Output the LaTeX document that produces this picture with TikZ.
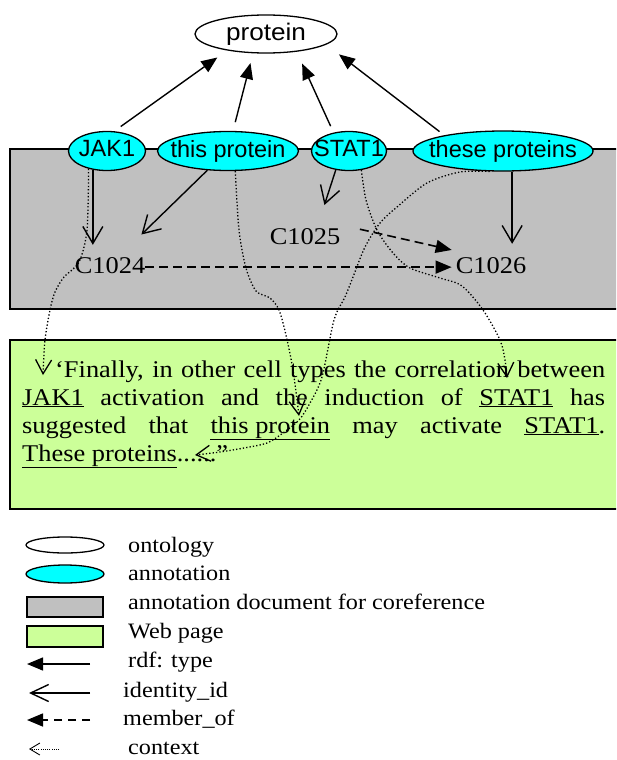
\documentclass[tikz,border=0pt]{standalone}
\usepackage{fontspec}
\setmainfont{Liberation Serif}[FakeStretch=1.1]
\newfontfamily\labelfont{Liberation Sans}
\newfontfamily\widelabelfont{Liberation Sans}[FakeStretch=1.09]
\usetikzlibrary{arrows.meta,shapes.geometric,calc}
\definecolor{annocyan}{HTML}{00FFFF}
\definecolor{docgray}{HTML}{C0C0C0}
\definecolor{pagegreen}{HTML}{CCFF99}
\newcommand{\ellab}[1]{\makebox[0pt]{\vphantom{Jp}#1}}

\begin{document}
\begin{tikzpicture}[x=1pt,y=-1pt,
    onto/.style={ellipse,draw,line width=1.3pt,fill=white,inner sep=0pt},
    anno/.style={ellipse,draw,line width=1.3pt,fill=annocyan,inner sep=0pt,
        font=\labelfont\fontsize{23.5}{28}\selectfont},
    concept/.style={inner sep=0pt,font=\fontsize{24}{28}\selectfont},
    pageline/.style={anchor=base west,inner sep=0pt,font=\fontsize{24}{28}\selectfont},
    rdftype/.style={-{Triangle[length=16pt,width=13pt]},line width=1.4pt},
    identity/.style={-{Straight Barb[length=17pt,width=20pt]},line width=1.4pt},
    memberof/.style={-{Triangle[length=16pt,width=13pt]},line width=1.6pt,
        dash pattern=on 9pt off 5pt},
    context/.style={-{Straight Barb[length=14pt,width=16pt,line width=1.3pt]},line width=1.3pt,
        dash pattern=on 1.3pt off 2.1pt},
    legend/.style={anchor=base west,inner sep=0pt,font=\fontsize{22}{26}\selectfont}]
    \useasboundingbox (0,0) rectangle (616,760);
    \clip (0,0) rectangle (616,760);

    % annotation document and web page
    \draw[fill=docgray,line width=1.6pt] (10,149) rectangle (630,309);
    \draw[fill=pagegreen,line width=1.8pt] (10,340) rectangle (630,509);

    % ontology and annotations
    \node[onto,minimum width=142pt,minimum height=38pt,
        font=\widelabelfont\fontsize{24}{28}\selectfont] (protein) at (266,34) {\ellab{protein}};
    \node[anno,minimum width=77pt,minimum height=39pt] (jak) at (107,151) {\ellab{JAK1}};
    \node[anno,minimum width=141pt,minimum height=39pt] (tp) at (228,151) {\ellab{this protein}};
    \node[anno,minimum width=75pt,minimum height=39pt] (stat) at (349,151) {\ellab{STAT1}};
    \node[anno,minimum width=180pt,minimum height=40pt] (these) at (503,151) {\ellab{these proteins}};

    % coreference instances
    \node[concept,anchor=base] (c1024) at (110,273) {C1024};
    \node[concept,anchor=base] (c1025) at (305,244) {C1025};
    \node[concept,anchor=base] (c1026) at (491,273) {C1026};

    % web page text
    \node[pageline] (page-1) at (55,377)
        {\makebox[550pt][s]{‘Finally, in other cell types the correlation between}};
    \node[pageline] (page-2) at (22,405)
        {\makebox[583pt][s]{\underline{JAK1} activation and the induction of \underline{STAT1} has}};
    \node[pageline] (page-3) at (22,433)
        {\makebox[583pt][s]{suggested that \underline{this protein} may activate \underline{STAT1}.}};
    \node[pageline] (page-4) at (22,461) {\underline{These proteins}......”};
    \coordinate (ctx-jak) at (43,375);
    \coordinate (ctx-tp) at (299,416);
    \coordinate (ctx-stat) at (507,378);
    \coordinate (ctx-these) at (195,455);

    % rdf: type
    \draw[rdftype,shorten <=8pt,shorten >=12pt] (jak.70) -- (protein.203);
    \draw[rdftype,shorten <=9pt,shorten >=10pt] (tp.76) -- (protein.236);
    \draw[rdftype,shorten <=7pt,shorten >=13pt] (stat.130) -- (protein.330);
    \draw[rdftype,shorten <=6pt,shorten >=16pt] (these.165) -- (protein.350);

    % identity_id
    \draw[identity,shorten >=12pt] (jak.233) -- (jak.233 |- c1024.north);
    \draw[identity,shorten >=32pt] (tp.223) -- (c1024);
    \draw[identity,shorten >=24pt] (stat.235) -- ($(c1025.north)+(12,0)$);
    \draw[identity,shorten >=13pt] (these.294) -- (these.294 |- c1026.north);

    % member_of
    \draw[memberof,shorten >=4pt] ([yshift=-2pt]c1024.east) -- ([yshift=-2pt]c1026.west);
    \draw[memberof,shorten <=20pt,shorten >=4pt] ([yshift=3pt]c1025.north east) -- ([yshift=6pt]c1026.north west);

    % context
    \draw[context] plot[smooth,tension=0.5] coordinates {(jak.224) (87,230) (79,262)
        (64,277) (55,292) (50,310) (45,340) (ctx-jak)};
    \draw[context] plot[smooth,tension=0.5] coordinates {(tp.290) (239,230) (246,268)
        (256,291) (270,298) (279,310) (286,335) (293,370) (ctx-tp)};
    \draw[context] plot[smooth,tension=0.5] coordinates {(stat.303) (366,200) (377,230)
        (393,253) (410,268) (440,278) (462,286) (483,310) (500,340) (505,360) (ctx-stat)};
    \draw[context] plot[smooth,tension=0.5] coordinates {(these.237) (460,172) (427,183)
        (397,207) (380,223) (365,247) (353,277) (345,297) (334,320) (322,377) (310,403)
        (299,420) (283,433) (267,443) (244,448) (220,452) (ctx-these)};

    % legend
    \node[onto,minimum width=78pt,minimum height=16pt] (lg-onto) at (65,545) {};
    \node[anno,minimum width=78pt,minimum height=18pt] (lg-anno) at (65,574) {};
    \draw[fill=docgray,line width=1.5pt] (27,597) rectangle (103,617);
    \draw[fill=pagegreen,line width=1.5pt] (27,626) rectangle (103,647);
    \coordinate (lg-rdf-a) at (90,664);
    \coordinate (lg-rdf-b) at (27,664);
    \coordinate (lg-id-a) at (90,693);
    \coordinate (lg-id-b) at (29,693);
    \coordinate (lg-mem-a) at (90,720);
    \coordinate (lg-mem-b) at (27,720);
    \coordinate (lg-ctx-a) at (59,749);
    \coordinate (lg-ctx-b) at (29,749);
    \draw[rdftype] (lg-rdf-a) -- (lg-rdf-b);
    \draw[identity,-{Straight Barb[length=18pt,width=17pt]}] (lg-id-a) -- (lg-id-b);
    \draw[memberof,dash pattern=on 8pt off 6pt] (lg-mem-a) -- (lg-mem-b);
    \draw[context,line width=0.8pt,dash pattern=on 0.8pt off 1.4pt,
        -{Straight Barb[length=10pt,width=12pt,line width=0.9pt]}] (lg-ctx-a) -- (lg-ctx-b);
    \node[legend] (lt-onto) at (128,552) {ontology};
    \node[legend] (lt-anno) at (128,580) {annotation};
    \node[legend] (lt-doc) at (128,609) {annotation document for coreference};
    \node[legend] (lt-web) at (128,638) {Web page};
    \node[legend] (lt-rdf) at (128,667) {rdf: type};
    \node[legend] (lt-id) at (123,697) {identity\_id};
    \node[legend] (lt-mem) at (123,725) {member\_of};
    \node[legend] (lt-ctx) at (128,754) {context};
\end{tikzpicture}
\end{document}
